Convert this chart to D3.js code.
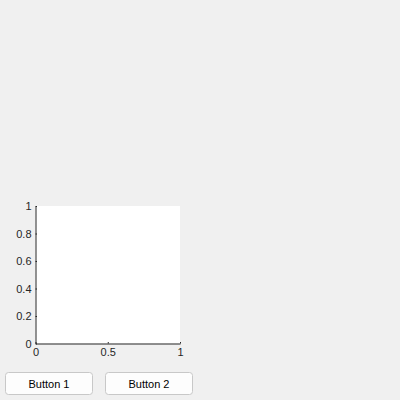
<!DOCTYPE html>
<html><head><meta charset="utf-8">
<script src="https://cdn.jsdelivr.net/npm/d3@7"></script>
<style>body{margin:0;background:#f0f0f0;}</style>
</head><body>
<svg id="c" width="400" height="400"></svg>
<script>
const xTicks=[0,0.5,1];
const yTicks=[0,0.2,0.4,0.6,0.8,1];
const buttons=["Button 1","Button 2"];
const svg=d3.select("#c");
svg.append("rect").attr("width",400).attr("height",400).attr("fill","#f0f0f0");
const L=35.5,R=180,T=206,B=343.5;
const x=d3.scaleLinear().domain([0,1]).range([L,R]);
const y=d3.scaleLinear().domain([0,1]).range([B,T]);
svg.append("rect").attr("x",L).attr("y",T).attr("width",R-L).attr("height",B-T).attr("fill","#fff");
const font="Helvetica, Arial, 'Liberation Sans', sans-serif";
const xa=svg.append("g").attr("transform",`translate(0,${B})`)
 .call(d3.axisBottom(x).tickValues(xTicks).tickFormat(d3.format("~g")).tickSizeInner(-1.5).tickSizeOuter(0).tickPadding(5));
const ya=svg.append("g").attr("transform",`translate(${L},0)`)
 .call(d3.axisLeft(y).tickValues(yTicks).tickFormat(d3.format("~g")).tickSizeInner(-1.5).tickSizeOuter(0).tickPadding(4));
[xa,ya].forEach(a=>{a.selectAll("path,line").attr("stroke","#262626");
 a.selectAll("text").attr("fill","#262626").style("font-family",font).style("font-size","11px");});
buttons.forEach((b,i)=>{
 const g=svg.append("g").attr("transform",`translate(${5+i*100},372)`);
 g.append("rect").attr("x",0.5).attr("y",0.5).attr("width",87).attr("height",22).attr("rx",3)
  .attr("fill","#fdfdfd").attr("stroke","#c8c8c8");
 g.append("text").attr("x",44).attr("y",15.5).attr("text-anchor","middle")
  .style("font-family",font).style("font-size","11px").attr("fill","#000").text(b);
});
</script></body></html>
